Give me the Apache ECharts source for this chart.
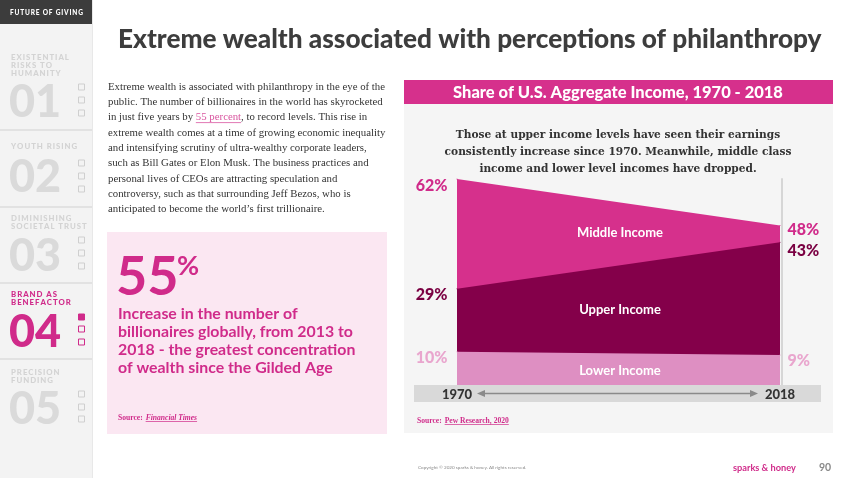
<!DOCTYPE html>
<html><head><meta charset="utf-8">
<script src="https://cdn.jsdelivr.net/npm/echarts@6/dist/echarts.min.js"></script>
<style>html,body{margin:0;padding:0;background:#fff}#c{width:850px;height:478px}</style>
</head><body><div id="c"></div>
<script>
// ---------- data ----------
const years = ['1970', '2018'];
const middleIncome = [62, 48];
const upperIncome = [29, 43];
const lowerIncome = [10, 9];
const seriesNames = ['Middle Income', 'Upper Income', 'Lower Income'];

const pageTitle = 'Extreme wealth associated with perceptions of philanthropy';
const chartTitle = 'Share of U.S. Aggregate Income, 1970 - 2018';
const chartSubtitle = ['Those at upper income levels have seen their earnings',
  'consistently increase since 1970. Meanwhile, middle class',
  'income and lower level incomes have dropped.'];
const bodyLines = ['Extreme wealth is associated with philanthropy in the eye of the',
  'public. The number of billionaires in the world has skyrocketed',
  'in just five years by |55 percent|, to record levels. This rise in',
  'extreme wealth comes at a time of growing economic inequality',
  'and intensifying scrutiny of ultra-wealthy corporate leaders,',
  'such as Bill Gates or Elon Musk. The business practices and',
  'personal lives of CEOs are attracting speculation and',
  'controversy, such as that surrounding Jeff Bezos, who is',
  'anticipated to become the world\u2019s first trillionaire.'];
const statValue = '55';
const statLines = ['Increase in the number of', 'billionaires globally, from 2013 to',
  '2018 - the greatest concentration', 'of wealth since the Gilded Age'];
const sidebarTitles = [['EXISTENTIAL', 'RISKS TO', 'HUMANITY'], ['YOUTH RISING'],
  ['DIMINISHING', 'SOCIETAL TRUST'], ['BRAND AS', 'BENEFACTOR'], ['PRECISION', 'FUNDING']];
const sidebarNumbers = ['01', '02', '03', '04', '05'];

// ---------- helpers ----------
const MAG = '#d02b8a', MAG_DARK = '#84004a', MAG_LIGHT = '#de8fc2', MID = '#d6308c';
const ctx = document.createElement('canvas').getContext('2d');
function mw(t, font) { ctx.font = font; return ctx.measureText(t).width; }
function fit(t, fam, wt, target, st) { return 100 * target / mw(t, (st || 'normal') + ' ' + wt + ' 100px ' + fam); }
function sp(s) { return s.split('').join('\u2009'); }
const g = [];
function rect(x, y, w, h, fill, z, extra) {
  g.push(Object.assign({ type: 'rect', silent: true, z: z || 0, shape: { x: x, y: y, width: w, height: h }, style: { fill: fill } }, extra || {}));
}
function line(x1, y1, x2, y2, stroke, lw, z) {
  g.push({ type: 'line', silent: true, z: z || 5, shape: { x1: x1, y1: y1, x2: x2, y2: y2 }, style: { stroke: stroke, lineWidth: lw || 1 } });
}
function text(x, y, t, o) {
  g.push({ type: 'text', silent: true, z: o.z || 10, style: Object.assign({
    text: t, x: x, y: y, fill: o.fill || '#333', fontSize: o.size, fontFamily: o.fam || 'Lato',
    fontWeight: o.wt || 'normal', fontStyle: o.st || 'normal',
    textAlign: o.align || 'left', align: o.align || 'left',
    textVerticalAlign: 'middle', verticalAlign: 'middle' }, o.extra || {}) });
}

// ---------- sidebar ----------
rect(0, 0, 92, 478, '#f3f3f3', 0);
rect(92, 0, 1, 478, '#e8e8e8', 0);
rect(0, 0, 92, 24, '#3c3c3c', 1);
const hdr = sp('FUTURE OF GIVING');
text(10, 13, hdr, { size: fit(hdr, 'Lato', '900', 73), wt: '900', fill: '#fff' });
[129, 206, 282, 358].forEach(y => rect(0, y, 92, 2, '#e2e2e2', 1));
const sbLabelY = [57, 146, 218, 294, 372];
const sbNumY = [102, 177, 256, 332, 409];
const sbSqY = [[87, 100, 113], [163, 176, 189], [240, 253, 266], [317, 329, 342], [394, 407, 419]];
const sbSize = fit(sp('EXISTENTIAL'), 'Lato', '900', 58);
sidebarTitles.forEach((lines, i) => {
  const act = i === 3;
  const col = act ? MAG : '#d3d3d3';
  lines.forEach((l, j) => text(11, sbLabelY[i] + j * 8.3, sp(l), { size: sbSize, wt: '900', fill: col }));
  text(9, sbNumY[i], sidebarNumbers[i], { size: 45, wt: '900', fill: act ? MAG : '#dadada' });
  sbSqY[i].forEach((y, k) => {
    g.push({ type: 'rect', silent: true, z: 5, shape: { x: 78.5, y: y - 3, width: 6, height: 6 },
      style: { fill: (act && k === 0) ? MAG : 'none', stroke: act ? MAG : '#cfcfcf', lineWidth: 1 } });
  });
});

// ---------- title ----------
text(118, 40, pageTitle, { size: fit(pageTitle, 'Lato', '900', 704), wt: '900', fill: '#3d3d3d' });

// ---------- body ----------
const bodyFam = '"Liberation Serif"';
const bodySize = fit(bodyLines[1], bodyFam, 'normal', 275);
bodyLines.forEach((l, i) => {
  const y = 87 + i * 15.3;
  if (l.indexOf('|') >= 0) {
    const parts = l.split('|');
    text(108, y, parts[0] + '{u|' + parts[1] + '}' + parts[2], { size: bodySize, fam: bodyFam, fill: '#333',
      extra: { rich: { u: { fill: '#d9559f', fontSize: bodySize, fontFamily: bodyFam } } } });
    const f = 'normal normal ' + bodySize + 'px ' + bodyFam;
    const x0 = 108 + mw(parts[0], f), x1 = x0 + mw(parts[1], f);
    line(x0, y + 5, x1, y + 5, '#d9559f', 0.8);
  } else {
    text(108, y, l, { size: bodySize, fam: bodyFam, fill: '#333' });
  }
});

// source line with underlined link
function source(x, y, label, st) {
  const sz = 7.6;
  const f1 = 'normal bold ' + sz + 'px ' + bodyFam;
  const f2 = (st || 'normal') + ' bold ' + sz + 'px ' + bodyFam;
  const pre = 'Source: ';
  text(x, y, pre, { size: sz, fam: bodyFam, wt: 'bold', fill: MAG });
  const x0 = x + mw(pre, f1) + 1;
  text(x0, y, label, { size: sz, fam: bodyFam, wt: 'bold', st: st || 'normal', fill: MAG });
  line(x0, y + 3.5, x0 + mw(label, f2), y + 3.5, MAG, 0.7);
}

// ---------- stat box ----------
rect(107, 232, 280, 202, '#fbe7f2', 0);
text(116, 278, statValue, { size: 54, wt: 'bold', fill: MAG });
text(177, 266, '%', { size: 27, wt: 'bold', fill: MAG });
const statSize = fit(statLines[1], 'Lato', 'bold', 235);
statLines.forEach((l, i) => text(118, 313.5 + i * 18, l, { size: statSize, wt: 'bold', fill: MAG }));
source(118, 418, 'Financial Times', 'italic');

// ---------- chart panel ----------
rect(404, 80, 429, 24, MID, 1);
rect(404, 104, 429, 329, '#f5f5f5', 0);
text(618, 92.5, chartTitle, { size: fit(chartTitle, 'Lato', '900', 330), wt: '900', fill: '#fff', align: 'center' });
const subFam = '"DejaVu Serif"';
const subSize = fit(chartSubtitle[1], subFam, 'bold', 347);
chartSubtitle.forEach((l, i) => text(618, 135 + i * 17, l, { size: subSize, fam: subFam, wt: 'bold', fill: '#333', align: 'center' }));
rect(414, 385, 407, 17, '#d9d9d9', 1);
// arrow
line(481, 393.5, 754, 393.5, '#8a8a8a', 1.6, 5);
g.push({ type: 'polygon', silent: true, z: 5, shape: { points: [[477, 393.5], [485, 390], [485, 397]] }, style: { fill: '#8a8a8a' } });
g.push({ type: 'polygon', silent: true, z: 5, shape: { points: [[758, 393.5], [750, 390], [750, 397]] }, style: { fill: '#8a8a8a' } });
// area names
text(620, 233, seriesNames[0], { size: 13, wt: 'bold', fill: '#fff', align: 'center', z: 20 });
text(620, 310, seriesNames[1], { size: 13, wt: 'bold', fill: '#fff', align: 'center', z: 20 });
text(620, 371, seriesNames[2], { size: 13, wt: 'bold', fill: '#fff', align: 'center', z: 20 });
source(417, 421, 'Pew Research, 2020');

// ---------- footer ----------
text(418, 468, 'Copyright \u00A9 2020 sparks & honey. All rights reserved.', { size: 4.6, fill: '#8a8a8a' });
text(733, 468, 'sparks & honey', { size: fit('sparks & honey', 'Lato', 'bold', 63), wt: 'bold', fill: MAG });
text(819, 468, '90', { size: 10.5, wt: 'bold', fill: '#8a8a8a' });

// ---------- series ----------
function mk(vals, name, color, labColor, offs) {
  return {
    type: 'line', name: name, z: 2,
    data: vals.map((v, i) => ({ value: v, label: { show: true, position: i === 0 ? 'left' : 'right',
      distance: i === 0 ? 9 : 7, offset: [0, offs[i]] } })),
    symbol: 'circle', symbolSize: 1, showSymbol: true,
    itemStyle: { color: color },
    lineStyle: { width: 0, color: color },
    areaStyle: { color: color, opacity: 1, origin: 'start' },
    label: { formatter: '{c}%', color: labColor, fontFamily: 'Lato', fontWeight: '900', fontSize: 16 },
    emphasis: { disabled: true }, silent: true
  };
}

const chart = echarts.init(document.getElementById('c'), null, { renderer: 'canvas' });
chart.setOption({
  animation: false,
  backgroundColor: '#ffffff',
  grid: { left: 457, right: 70, top: 179, bottom: 93, containLabel: false },
  xAxis: { type: 'category', data: years, boundaryGap: false, z: 6,
    axisLine: { show: false }, axisTick: { show: false }, splitLine: { show: false },
    axisLabel: { color: '#333', fontFamily: 'Lato', fontWeight: '900', fontSize: 13, margin: 3 } },
  yAxis: { type: 'value', min: 0, max: 62, position: 'right', offset: 2,
    axisLine: { show: true, lineStyle: { color: '#d6d6d6', width: 2 } },
    axisTick: { show: false }, axisLabel: { show: false }, splitLine: { show: false } },
  series: [
    mk(middleIncome, seriesNames[0], MID, MAG, [7, 4]),
    mk(upperIncome, seriesNames[1], MAG_DARK, '#7a0042', [6, 9]),
    mk(lowerIncome, seriesNames[2], MAG_LIGHT, '#e9a6ce', [6, 6])
  ],
  graphic: { elements: g }
});
</script></body></html>
